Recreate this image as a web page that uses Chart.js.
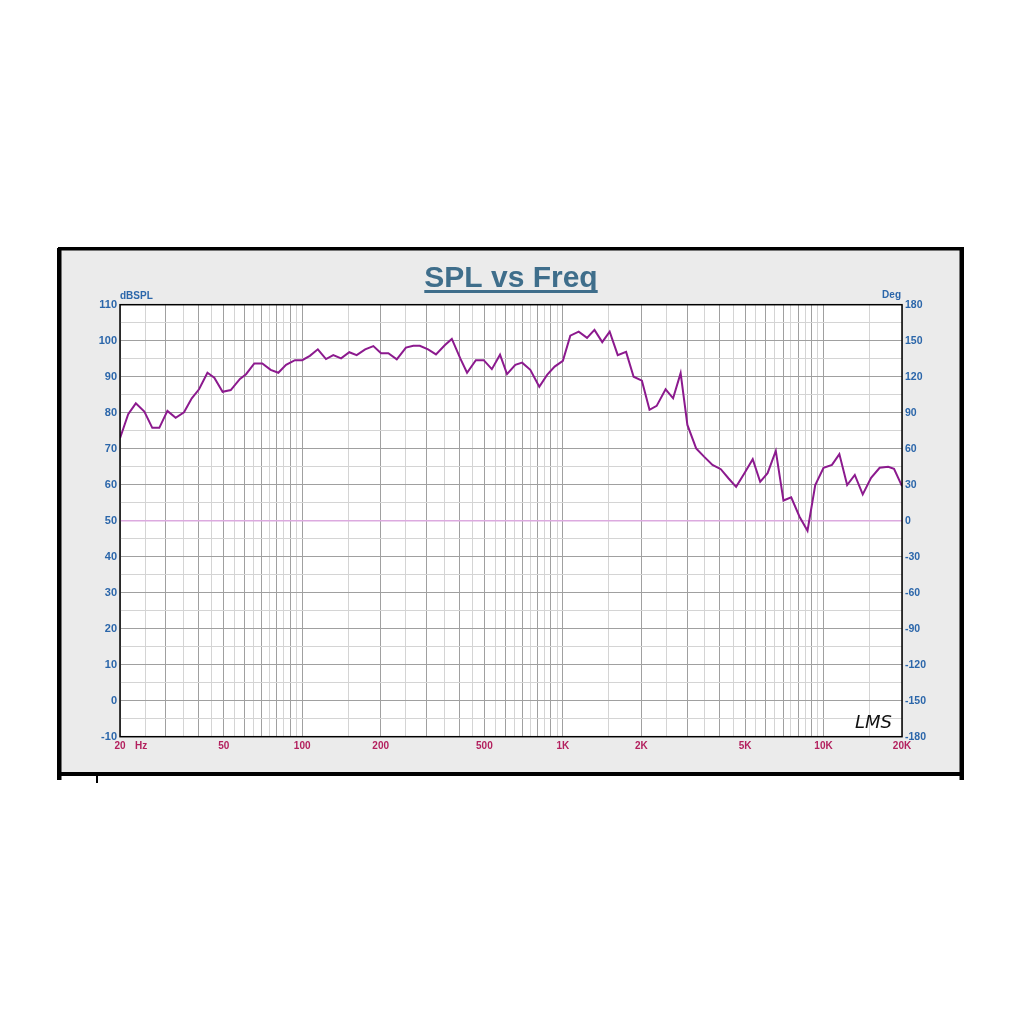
<!DOCTYPE html>
<html>
<head>
<meta charset="utf-8">
<script src="https://cdn.jsdelivr.net/npm/chart.js@4.4.1/dist/chart.umd.min.js"></script>
<style>
    html, body { margin: 0; padding: 0; background: #fff; }
    #chart1 { display: block; }
</style>
</head>
<body>
<canvas id="chart1" width="1024" height="1024"></canvas>
<script>
// SPL curve (Hz / dB)
const freqs = [20, 21.5, 23.0, 24.8, 26.6, 28.3, 30.4, 32.7, 35.2, 37.7, 40.2, 43.3, 46.0, 49.5, 53.2, 57.7, 60.9, 65.5, 70.3, 75.7,
    81, 86.7, 93.8, 100, 107, 114.8, 123.4, 131.6, 141, 151.6, 161.8, 174.4, 187.5, 200.7, 214, 230.6, 250, 266.8, 282.6, 304,
    326, 353, 375, 404, 429, 463.6, 497, 534, 574, 610.6, 657, 698, 750, 812, 870, 930, 1000, 1068, 1150, 1238,
    1322, 1416, 1512, 1624, 1748, 1868, 2010, 2150, 2290, 2478, 2648, 2830, 3004, 3246, 3480, 3750, 4036, 4316, 4620, 4972,
    5350, 5714, 6100, 6560, 7020, 7516, 8090, 8680, 9294, 10000, 10772, 11500, 12320, 13180, 14140, 15220, 16420, 17700, 18640, 20000];
const spl = [72.9, 79.6, 82.6, 80.3, 75.8, 75.8, 80.5, 78.6, 80.1, 84.0, 86.5, 91.1, 89.7, 85.8, 86.3, 89.4, 90.7, 93.7, 93.7, 91.9,
    91.1, 93.3, 94.6, 94.6, 95.8, 97.6, 94.9, 96.0, 95.1, 96.8, 96.0, 97.6, 98.5, 96.5, 96.5, 94.8, 98.1, 98.6, 98.6, 97.6,
    96.2, 98.8, 100.5, 95.1, 91.1, 94.6, 94.6, 92.1, 96.1, 90.7, 93.3, 93.9, 91.9, 87.2, 90.5, 92.8, 94.4, 101.4, 102.5, 100.8,
    103.0, 99.6, 102.5, 96.0, 96.9, 90.0, 88.9, 80.8, 81.9, 86.5, 84.0, 91.0, 76.6, 70.1, 67.8, 65.5, 64.3, 61.8, 59.4, 63.2,
    67.1, 60.8, 63.2, 69.4, 55.6, 56.5, 51.1, 47.2, 59.9, 64.7, 65.5, 68.5, 59.9, 62.7, 57.3, 61.9, 64.7, 65.0, 64.4, 59.6];

// phase trace sits flat on 0 deg
const phaseFreqs = [20, 20000];
const phase = [0, 0];

// vertical grid lines as LMS draws them
const gridMajor = [20, 30, 40, 50, 60, 70, 80, 90, 100, 200, 300, 400, 500, 600, 700, 800, 900, 1000,
    2000, 3000, 4000, 5000, 6000, 7000, 8000, 9000, 10000, 20000];
const gridMinor = [25, 35, 45, 55, 65, 75, 85, 95, 150, 250, 350, 450, 550, 650, 750, 850, 950, 1500,
    2500, 3500, 4500, 5500, 6500, 7500, 8500, 9500, 15000];
const freqLabels = {20: '20', 50: '50', 100: '100', 200: '200', 500: '500', 1000: '1K', 2000: '2K', 5000: '5K', 10000: '10K', 20000: '20K'};

const blue = "#2b66aa";
const red = "#b3205e";

Chart.defaults.font.family = 'Arial, "Liberation Sans", sans-serif';

const frame = {
    id: 'frame',
    beforeDraw(chart) {
        const ctx = chart.ctx;
        const a = chart.chartArea;
        ctx.save();
        ctx.fillStyle = "#fff";
        ctx.fillRect(0, 0, 1024, 1024);
        ctx.fillStyle = "#ebebeb";
        ctx.fillRect(60, 249, 901, 524);
        ctx.fillStyle = "#000";
        ctx.fillRect(58, 247, 906, 3.5);
        ctx.fillRect(57, 248, 4.5, 532);
        ctx.fillRect(959.5, 248, 4.5, 532);
        ctx.fillRect(57, 772, 907, 4);
        ctx.fillRect(96, 776, 2, 7);
        ctx.fillStyle = "#fff";
        ctx.fillRect(a.left, a.top, a.right - a.left, a.bottom - a.top);
        ctx.restore();
    },
    afterDraw(chart) {
        const ctx = chart.ctx;
        const a = chart.chartArea;
        ctx.save();
        ctx.strokeStyle = "#000";
        ctx.lineWidth = 1.5;
        ctx.strokeRect(a.left, a.top, a.right - a.left, a.bottom - a.top);

        // title with underline
        ctx.fillStyle = "#3f6e8b";
        ctx.font = 'bold 30px Arial, "Liberation Sans", sans-serif';
        ctx.textAlign = "center";
        ctx.textBaseline = "alphabetic";
        ctx.fillText("SPL vs Freq", 511, 287);
        const w = ctx.measureText("SPL vs Freq").width;
        ctx.fillRect(511 - w / 2, 290, w, 3);

        ctx.font = 'bold 10px Arial, "Liberation Sans", sans-serif';
        ctx.fillStyle = blue;
        ctx.textAlign = "left";
        ctx.fillText("dBSPL", a.left, 299);
        ctx.textAlign = "right";
        ctx.fillText("Deg", a.right - 1, 298);

        ctx.fillStyle = red;
        ctx.textAlign = "left";
        ctx.textBaseline = "middle";
        ctx.fillText("Hz", 135, 746.5);

        ctx.fillStyle = "#111";
        ctx.font = 'italic 18px "DejaVu Sans", sans-serif';
        ctx.textBaseline = "alphabetic";
        ctx.fillText("LMS", 855, 728);
        ctx.restore();
    }
};

let chart1 = document.getElementById("chart1");

new Chart(chart1, {
    type: 'line',
    data: {
        datasets: [
            {
                data: freqs.map((f, i) => ({x: f, y: spl[i]})),
                borderColor: "#8c1a8e",
                borderWidth: 2,
                pointRadius: 0,
                tension: 0,
                yAxisID: 'y'
            },
            {
                data: phaseFreqs.map((f, i) => ({x: f, y: phase[i]})),
                borderColor: "#dcaadf",
                borderWidth: 1.5,
                pointRadius: 0,
                yAxisID: 'y2'
            }
        ]
    },
    options: {
        responsive: false,
        animation: false,
        layout: {
            padding: {top: 304.7, left: 0, right: 0, bottom: 0}
        },
        plugins: {
            legend: {display: false},
            tooltip: {enabled: false}
        },
        scales: {
            x: {
                type: 'logarithmic',
                min: 20,
                max: 20000,
                afterBuildTicks: (s) => {
                    s.ticks = gridMajor.concat(gridMinor).sort((p, q) => p - q).map(v => ({value: v}));
                },
                afterFit: (s) => { s.height = 1024 - 736.7; },
                grid: {
                    drawTicks: false,
                    color: (c) => (c.tick && gridMajor.includes(c.tick.value)) ? "#a0a0a0" : "#d4d4d4",
                    lineWidth: 1
                },
                border: {display: false},
                ticks: {
                    autoSkip: false,
                    maxRotation: 0,
                    padding: 4,
                    color: red,
                    font: {size: 10, weight: 'bold'},
                    callback: (v) => freqLabels[v] || ''
                }
            },
            y: {
                position: 'left',
                min: -10,
                max: 110,
                afterFit: (s) => { s.width = 120; },
                grid: {
                    drawTicks: false,
                    color: (c) => (c.tick && c.tick.value % 10 === 0) ? "#a0a0a0" : "#d4d4d4"
                },
                border: {display: false},
                ticks: {
                    stepSize: 5,
                    autoSkip: false,
                    padding: 3,
                    color: blue,
                    font: {size: 11, weight: 'bold'},
                    callback: (v) => v % 10 === 0 ? v : ''
                }
            },
            y2: {
                position: 'right',
                min: -180,
                max: 180,
                afterFit: (s) => { s.width = 122; },
                grid: {display: false, drawTicks: false},
                border: {display: false},
                ticks: {
                    stepSize: 30,
                    autoSkip: false,
                    padding: 3,
                    color: blue,
                    font: {size: 10.5, weight: 'bold'}
                }
            }
        }
    },
    plugins: [frame]
});
</script>
</body>
</html>
